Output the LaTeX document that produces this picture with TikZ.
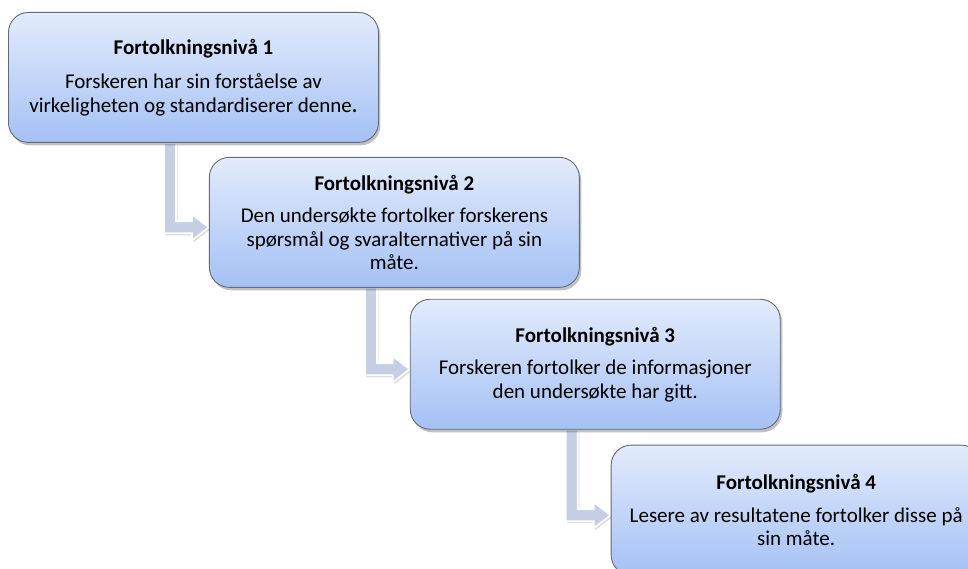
\documentclass[tikz,border=0pt]{standalone}
\usepackage{fontspec}
\setmainfont{Carlito}
\usetikzlibrary{positioning, calc, shadows, backgrounds}
\definecolor{cTop}{RGB}{227,235,252}
\definecolor{cBottom}{RGB}{164,193,244}
\definecolor{cEdge}{RGB}{100,106,118}
\definecolor{cArrow}{RGB}{196,207,227}
\tikzset{
	level/.style ={rectangle, rounded corners=20pt, minimum width=370pt, minimum height=130pt, align=center, draw=cEdge, line width=0.9pt, top color=cTop, bottom color=cBottom, drop shadow={shadow xshift=2pt, shadow yshift=-3pt, opacity=0.35, fill=black!70}},
	stair/.style ={fill=cArrow, draw=white, line width=1.8pt, line join=miter, drop shadow={shadow xshift=1.5pt, shadow yshift=-2pt, opacity=0.2, fill=black!70}},
}
% bent arrow: down from the lower box edge, then right into the next box
\newcommand{\stairarrow}[2]{%
	\filldraw[stair] let \p1=($(#1.south west)+(162pt,0)$), \p2=($(#2.west)+(0,-5pt)$) in
		(\x1-6pt,\y1) -- (\x1-6pt,\y2-6pt) -- (\x2-17pt,\y2-6pt) -- (\x2-17pt,\y2-13pt) -- (\x2,\y2)
		-- (\x2-17pt,\y2+13pt) -- (\x2-17pt,\y2+6pt) -- (\x1+6pt,\y2+6pt) -- (\x1+6pt,\y1) -- cycle;}

\begin{document}
\begin{tikzpicture}[font=\fontsize{21}{23.5}\selectfont]
	\path[use as bounding box] (0,0) rectangle (968pt,-569pt);
	\node[level, anchor=north west] (n1) at (8pt,-12pt) {\textbf{Fortolkningsnivå 1}\\[11pt] Forskeren har sin forståelse av\\ virkeligheten og standardiserer denne\textbf{.}};
	\node[level, below right=14pt and -170pt of n1] (n2) {\textbf{Fortolkningsnivå 2}\\[9pt] Den undersøkte fortolker forskerens\\ spørsmål og svaralternativer på sin\\ måte.};
	\node[level, below right=11pt and -170pt of n2] (n3) {\textbf{Fortolkningsnivå 3}\\[9pt] Forskeren fortolker de informasjoner\\ den undersøkte har gitt.};
	\node[level, below right=15pt and -170pt of n3] (n4) {\textbf{Fortolkningsnivå 4}\\[9pt] Lesere av resultatene fortolker disse på\\ sin måte.};
	\begin{scope}[on background layer]
		\stairarrow{n1}{n2}
		\stairarrow{n2}{n3}
		\stairarrow{n3}{n4}
	\end{scope}
\end{tikzpicture}
\end{document}
